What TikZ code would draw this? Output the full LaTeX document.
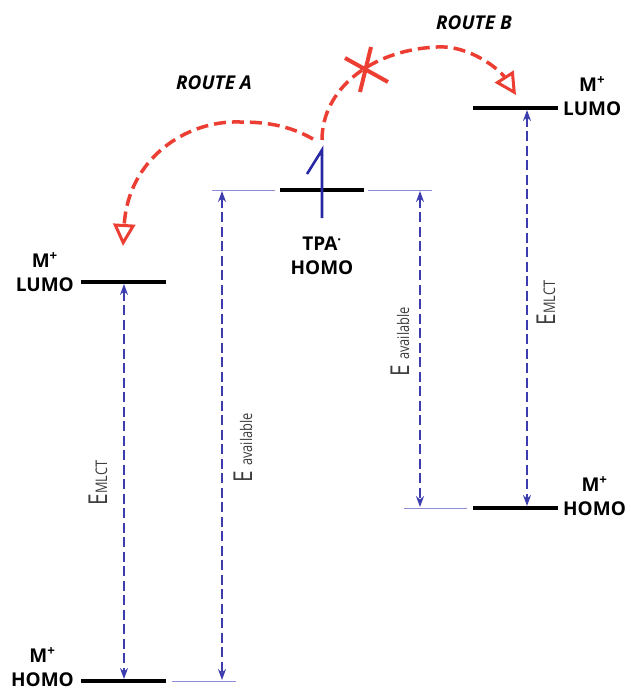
\documentclass[tikz,border=0pt]{standalone}
\usepackage{fontspec}
\setmainfont{Open Sans}
\newfontfamily\efont{Open Sans}[FakeStretch=0.8]
\usetikzlibrary{arrows.meta}
\definecolor{routered}{RGB}{236,62,50}
\definecolor{arrblue}{RGB}{60,60,175}
\definecolor{thinblue}{RGB}{140,140,215}
\definecolor{spinblue}{RGB}{40,40,165}
\definecolor{egray}{RGB}{60,60,60}
\tikzset{
  level/.style={line width=4.5pt, black},
  guide/.style={line width=1pt, thinblue},
  gap/.style={line width=1.7pt, arrblue, dash pattern=on 10pt off 4.5pt, {Stealth[length=11pt,width=8pt]}-{Stealth[length=11pt,width=8pt]}},
  route/.style={line width=3.5pt, routered, dash pattern=on 12pt off 6pt, -{Triangle[open,length=22pt,width=22pt,line width=3pt]}},
  lbl/.style={font=\bfseries\fontsize{19}{24}\selectfont, align=center, inner sep=0pt},
  rlbl/.style={font=\bfseries\itshape\fontsize{19}{22}\selectfont, inner sep=0pt},
  elbl/.style={text=egray, inner sep=0pt, rotate=90}
}
\begin{document}
\begin{tikzpicture}[x=1pt,y=-1pt]
\useasboundingbox (0,0) rectangle (630,691);
% level coordinates
\coordinate (LLa) at (81,282);  \coordinate (LLb) at (166,282);
\coordinate (LHa) at (81,681);  \coordinate (LHb) at (166,681);
\coordinate (Ta) at (280,190);  \coordinate (Tb) at (364,190);
\coordinate (RLa) at (473,108); \coordinate (RLb) at (558,108);
\coordinate (RHa) at (473,508); \coordinate (RHb) at (558,508);
% guide line ends
\coordinate (g1a) at (212,190); \coordinate (g1b) at (275,190);
\coordinate (g2a) at (368,190); \coordinate (g2b) at (432,190);
\coordinate (g3a) at (172,681); \coordinate (g3b) at (236,681);
\coordinate (g4a) at (404,508); \coordinate (g4b) at (467,508);
% arrow ends
\coordinate (eL1) at (124,284); \coordinate (eL2) at (124,679);
\coordinate (aL1) at (222,191); \coordinate (aL2) at (222,680);
\coordinate (aR1) at (420,191); \coordinate (aR2) at (420,507);
\coordinate (eR1) at (527,110); \coordinate (eR2) at (527,506);

% guide lines
\draw[guide] (g1a) -- (g1b);
\draw[guide] (g2a) -- (g2b);
\draw[guide] (g3a) -- (g3b);
\draw[guide] (g4a) -- (g4b);

% energy levels
\draw[level] (LLa) -- (LLb);
\draw[level] (LHa) -- (LHb);
\draw[level] (Ta) -- (Tb);
\draw[level] (RLa) -- (RLb);
\draw[level] (RHa) -- (RHb);

% gap arrows
\draw[gap] (eL1) -- (eL2);
\draw[gap] (aL1) -- (aL2);
\draw[gap] (aR1) -- (aR2);
\draw[gap] (eR1) -- (eR2);

% spin arrow
\coordinate (sTop) at (322,150);
\coordinate (sBot) at (322,218);
\coordinate (sBarb) at (307,174);
\draw[spinblue, line width=2.6pt, line join=miter] (sBarb) -- (sTop) -- (sBot);

% routes
\coordinate (rA0) at (313,139);
\coordinate (rAm) at (240,122);
\coordinate (rA1) at (123,246);
\draw[route] (rA0) .. controls (290,126) and (268,122) .. (rAm)
  .. controls (185,120) and (128,160) .. (rA1);
\coordinate (rB0) at (322,140);
\coordinate (rBm) at (437,47);
\coordinate (rB1) at (516,95);
\draw[route] (rB0) .. controls (322,90) and (370,50) .. (rBm)
  .. controls (470,45) and (500,70) .. (rB1);
% cross
\coordinate (x1a) at (345,58); \coordinate (x1b) at (388,82);
\coordinate (x2a) at (371,47); \coordinate (x2b) at (360,92);
\draw[routered, line width=4pt] (x1a) -- (x1b);
\draw[routered, line width=4pt] (x2a) -- (x2b);

% labels
\node[rlbl] (routeA) at (214,83) {ROUTE A};
\node[rlbl] (routeB) at (474,23) {ROUTE B};
\node[lbl, anchor=east] (lLL) at (74,272) {M\textsuperscript{+}\\LUMO};
\node[lbl, anchor=east] (lLH) at (74,667) {M\textsuperscript{+}\\HOMO};
\node[lbl, anchor=west] (lRL) at (563,96) {M\textsuperscript{+}\\LUMO};
\node[lbl, anchor=west] (lRH) at (563,496) {M\textsuperscript{+}\\HOMO};
\node[lbl] (lT) at (322,256) {TPA\textsuperscript{·}\\HOMO};

% energy labels
\node[elbl] (tEL) at (98,483) {\efont\fontsize{26}{26}\selectfont E\fontsize{16}{16}\selectfont MLCT};
\node[elbl] (tER) at (546,303) {\efont\fontsize{26}{26}\selectfont E\fontsize{16}{16}\selectfont MLCT};
\node[elbl] (tAL) at (243,448) {\efont\fontsize{26}{26}\selectfont E \fontsize{16}{16}\selectfont available};
\node[elbl] (tAR) at (400,342) {\efont\fontsize{26}{26}\selectfont E \fontsize{16}{16}\selectfont available};
\end{tikzpicture}
\end{document}
